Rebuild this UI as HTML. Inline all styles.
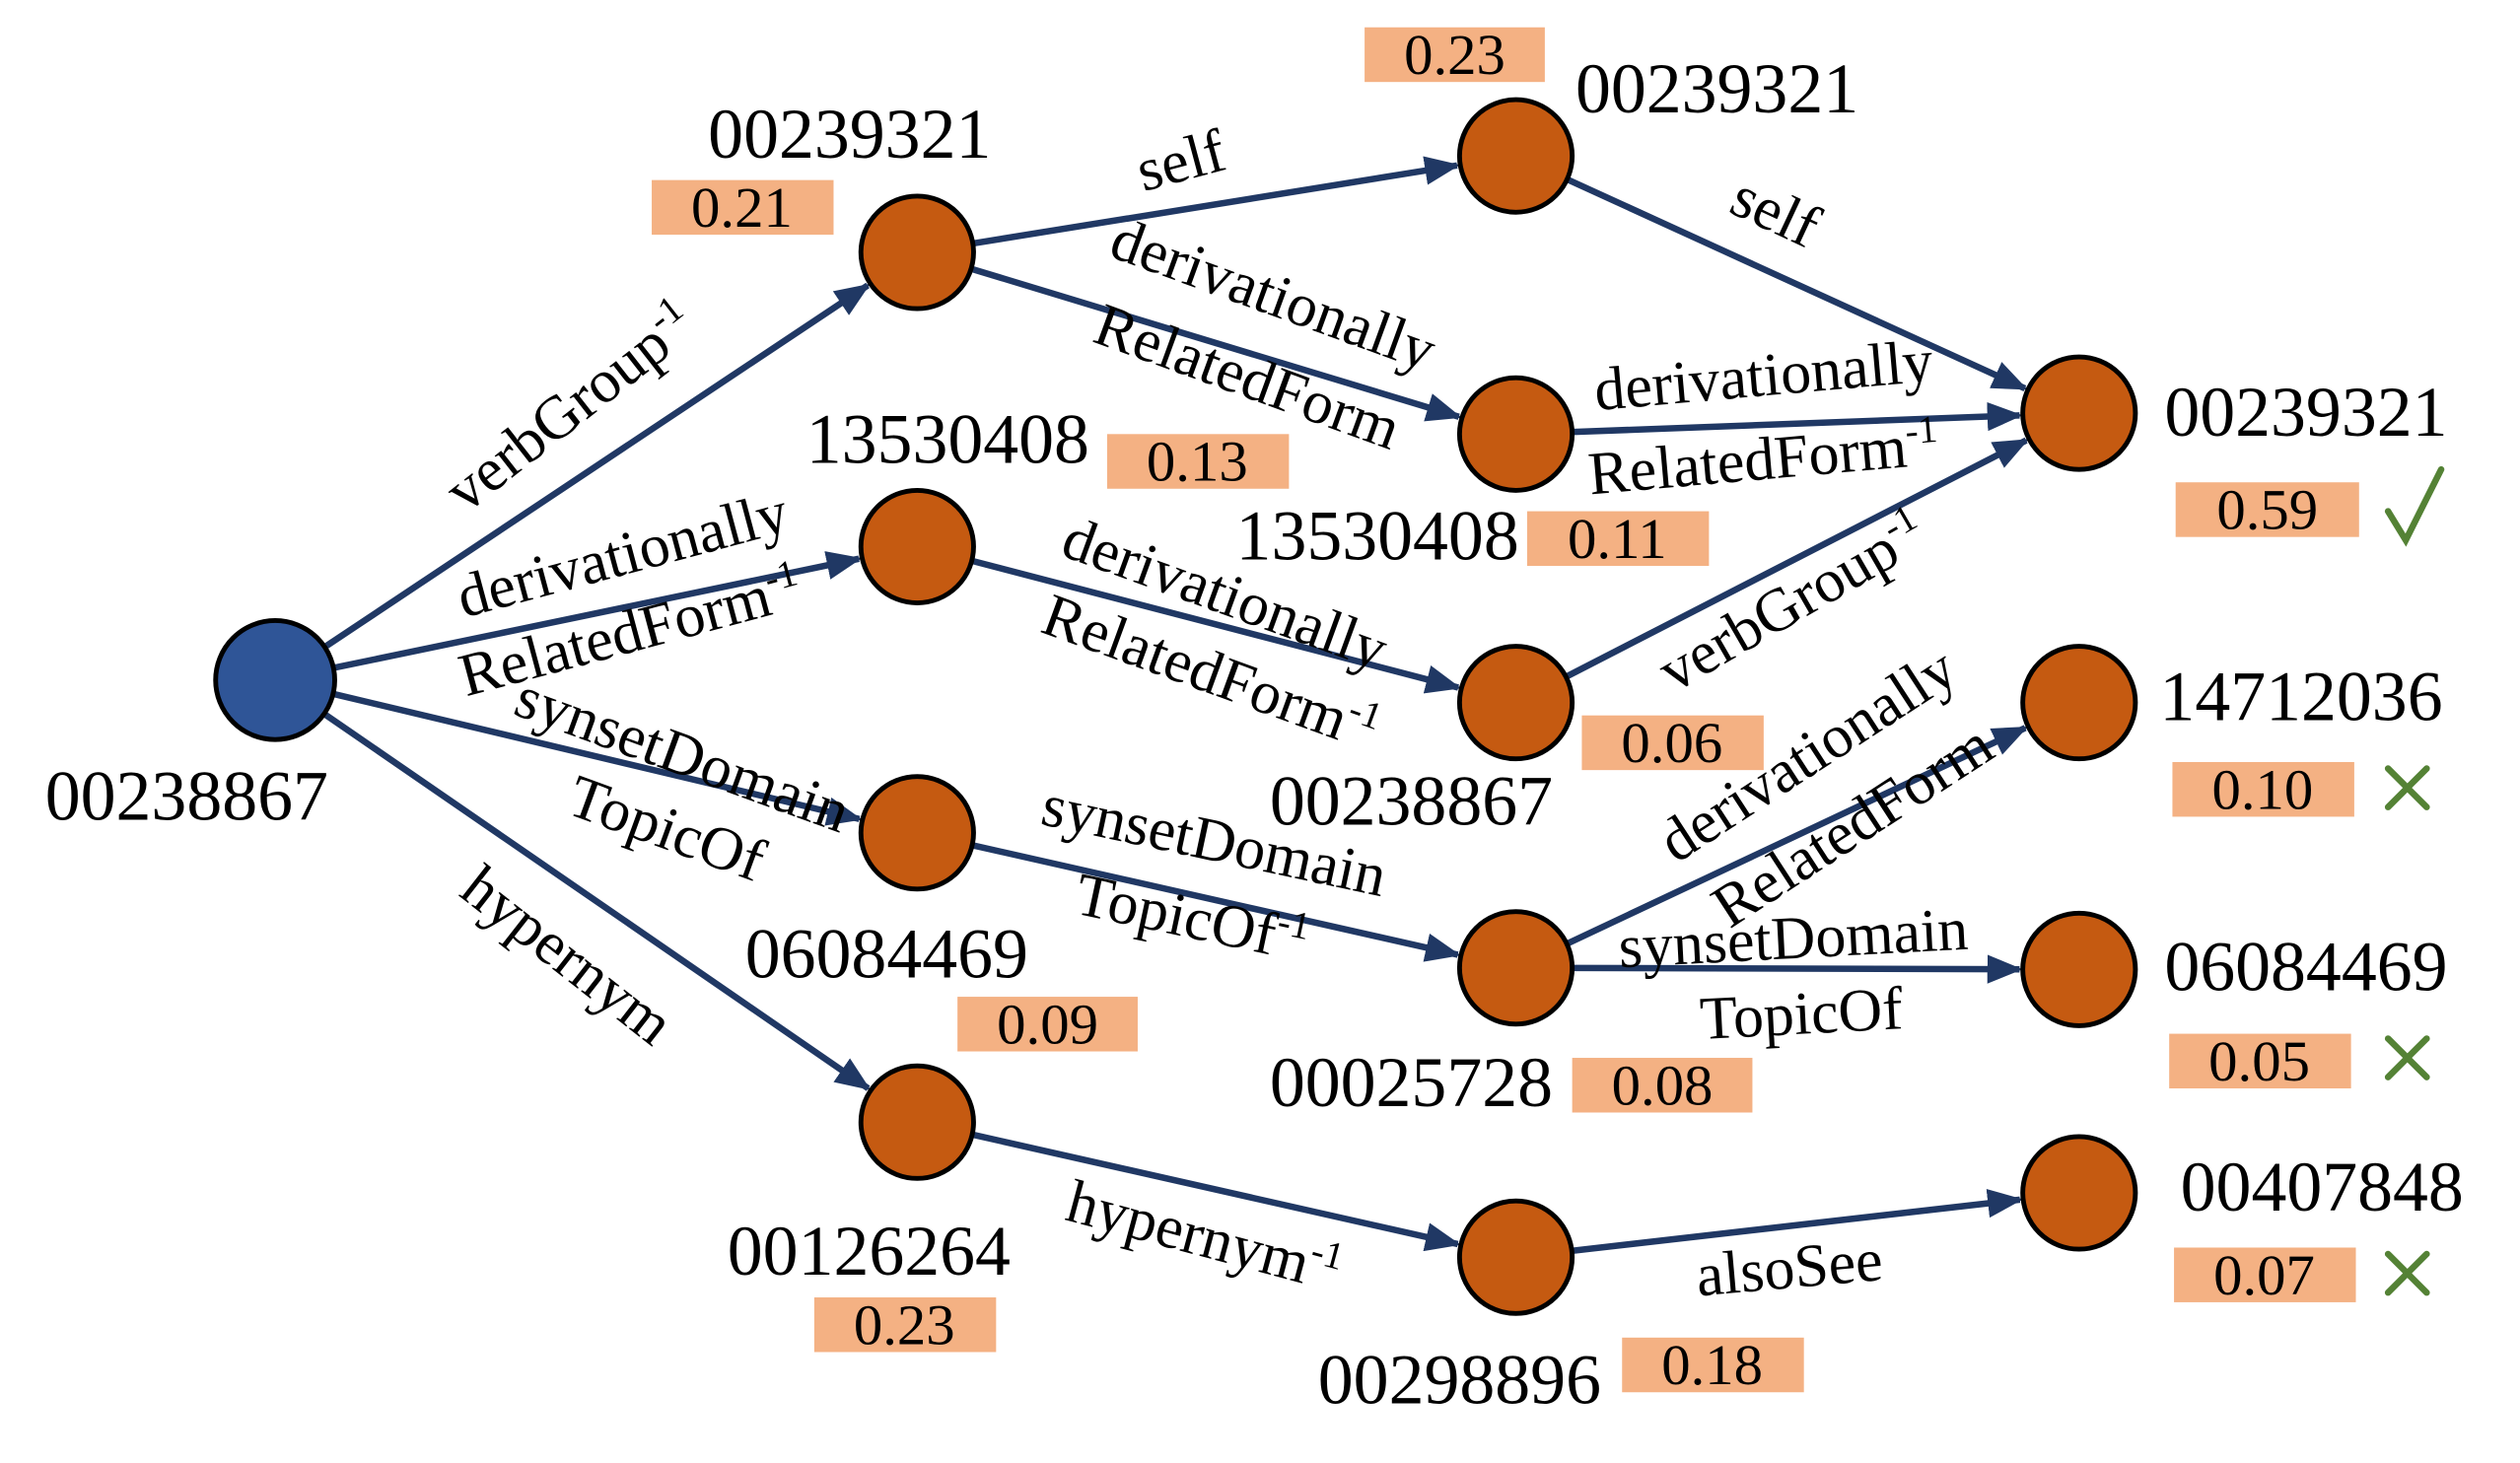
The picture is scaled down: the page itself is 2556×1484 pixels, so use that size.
<!DOCTYPE html>
<html><head><meta charset="utf-8"><style>
html,body{margin:0;padding:0;background:#fff;}
svg{display:block;}
text{font-family:"Liberation Serif",serif;fill:#000;}
.n{font-size:44px;}
.e{font-size:38px;}
.s{font-size:36px;}
</style></head><body>
<svg id="g" width="2556" height="1484" viewBox="0 0 1566 910" preserveAspectRatio="none" xmlns="http://www.w3.org/2000/svg">
<defs><marker id="ar" markerUnits="userSpaceOnUse" markerWidth="22" markerHeight="18" refX="20" refY="9" orient="auto"><path d="M0,0 L22,9 L0,18 Z" fill="#203864"/></marker></defs>
<g id="edges" stroke="#203864" stroke-width="4" fill="none"></g>
<g id="nodes" stroke="#000" stroke-width="3"></g>
<g fill="#F4B183">
<rect x="405" y="112" width="113" height="34"/>
<rect x="848" y="17" width="112" height="34"/>
<rect x="688" y="270" width="113" height="34"/>
<rect x="949" y="318" width="113" height="34"/>
<rect x="983" y="445" width="113" height="34"/>
<rect x="595" y="620" width="112" height="34"/>
<rect x="977" y="658" width="112" height="34"/>
<rect x="506" y="807" width="113" height="34"/>
<rect x="1008" y="832" width="113" height="34"/>
<rect x="1352" y="300" width="114" height="34"/>
<rect x="1350" y="474" width="113" height="34"/>
<rect x="1348" y="643" width="113" height="34"/>
<rect x="1351" y="776" width="113" height="34"/>
</g>
<g class="s" text-anchor="middle">
<text x="461" y="141">0.21</text>
<text x="904" y="46">0.23</text>
<text x="744" y="299">0.13</text>
<text x="1005" y="347">0.11</text>
<text x="1039" y="474">0.06</text>
<text x="651" y="649">0.09</text>
<text x="1033" y="687">0.08</text>
<text x="562" y="836">0.23</text>
<text x="1064" y="861">0.18</text>
<text x="1409" y="329">0.59</text>
<text x="1406" y="503">0.10</text>
<text x="1404" y="672">0.05</text>
<text x="1407" y="805">0.07</text>
</g>
<g class="n" text-anchor="middle">
<text x="528" y="98">00239321</text>
<text x="1067" y="70">00239321</text>
<text x="589" y="288">13530408</text>
<text x="856" y="348">13530408</text>
<text x="877" y="513">00238867</text>
<text x="116" y="510">00238867</text>
<text x="551" y="608">06084469</text>
<text x="877" y="688">00025728</text>
<text x="540" y="793">00126264</text>
<text x="907" y="873">00298896</text>
<text x="1433" y="271">00239321</text>
<text x="1430" y="448">14712036</text>
<text x="1433" y="616">06084469</text>
<text x="1443" y="753">00407848</text>
</g>
<g class="e" text-anchor="middle">
<text transform="translate(737,112) rotate(-15)">self</text>
<text transform="translate(1098,143) rotate(25)">self</text>
<text transform="translate(787,195) rotate(20)">derivationally</text>
<text transform="translate(771,246) rotate(20)">RelatedForm</text>
<text transform="translate(1097,246) rotate(-5)">derivationally</text>
<text transform="translate(1097,298) rotate(-5)">RelatedForm<tspan font-size="24" dy="-14">-1</tspan></text>
<text transform="translate(362,263) rotate(-38)">verbGroup<tspan font-size="24" dy="-14">-1</tspan></text>
<text transform="translate(390,357) rotate(-15)">derivationally</text>
<text transform="translate(395,405) rotate(-15)">RelatedForm<tspan font-size="24" dy="-14">-1</tspan></text>
<text transform="translate(420,481) rotate(20)">synsetDomain</text>
<text transform="translate(410,527) rotate(20)">TopicOf</text>
<text transform="translate(345,604) rotate(38)">hypernym</text>
<text transform="translate(757,381) rotate(20)">derivationally</text>
<text transform="translate(748,430) rotate(20)">RelatedForm<tspan font-size="24" dy="-14">-1</tspan></text>
<text transform="translate(1120,385) rotate(-30)">verbGroup<tspan font-size="24" dy="-14">-1</tspan></text>
<text transform="translate(752,535) rotate(12)">synsetDomain</text>
<text transform="translate(738,583) rotate(12)">TopicOf<tspan font-size="24" dy="-14">-1</tspan></text>
<text transform="translate(1130,480) rotate(-33)">derivationally</text>
<text transform="translate(1158,524) rotate(-33)">RelatedForm</text>
<text transform="translate(1115,596) rotate(-3)">synsetDomain</text>
<text transform="translate(1120,643) rotate(-3)">TopicOf</text>
<text transform="translate(745,781) rotate(15)">hypernym<tspan font-size="24" dy="-14">-1</tspan></text>
<text transform="translate(1113,801) rotate(-5)">alsoSee</text>
</g>
<g stroke="#548235" stroke-width="4" fill="none" stroke-linecap="round">
<path d="M1484,318 L1495,336 L1517,292"/>
<path d="M1484,478 L1508,502 M1508,478 L1484,502"/>
<path d="M1484,646 L1508,670 M1508,646 L1484,670"/>
<path d="M1484,780 L1508,804 M1508,780 L1484,804"/>
</g>
<script>
var N={R:[171,423],A:[570,157],B:[570,340],C:[570,518],D:[570,698],E:[942,97],F:[942,270],G:[942,437],H:[942,602],I:[942,782],J:[1292,257],K:[1292,437],L:[1292,603],M:[1292,742]};
var E=[["R","A"],["R","B"],["R","C"],["R","D"],["A","E"],["A","F"],["B","G"],["C","H"],["D","I"],["E","J"],["F","J"],["G","J"],["H","K"],["H","L"],["I","M"]];
var ns="http://www.w3.org/2000/svg",r=36,eg=document.getElementById("edges"),ng=document.getElementById("nodes");
E.forEach(function(e){var a=N[e[0]],b=N[e[1]],dx=b[0]-a[0],dy=b[1]-a[1],d=Math.hypot(dx,dy),ux=dx/d,uy=dy/d;
var l=document.createElementNS(ns,"line");l.setAttribute("x1",a[0]+ux*r);l.setAttribute("y1",a[1]+uy*r);l.setAttribute("x2",b[0]-ux*(r+1));l.setAttribute("y2",b[1]-uy*(r+1));l.setAttribute("marker-end","url(#ar)");eg.appendChild(l);});
for(var k in N){var c=document.createElementNS(ns,"circle");c.setAttribute("cx",N[k][0]);c.setAttribute("cy",N[k][1]);c.setAttribute("r",k=="R"?37:35);c.setAttribute("fill",k=="R"?"#2F5597":"#C55A11");ng.appendChild(c);}
</script>
</svg>
</body></html>
